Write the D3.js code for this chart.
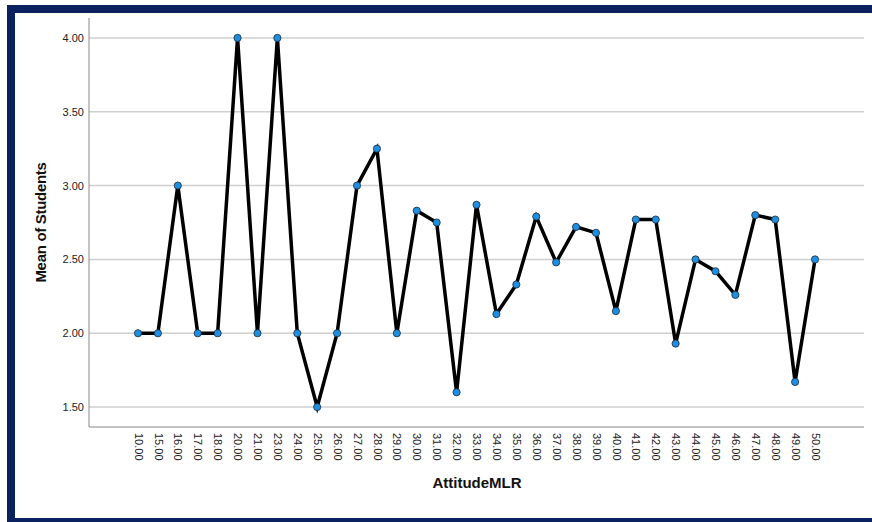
<!DOCTYPE html>
<html>
<head>
<meta charset="utf-8">
<script src="https://cdn.jsdelivr.net/npm/d3@7"></script>
<style>
  html, body { margin: 0; padding: 0; background: #fff; }
  svg { display: block; }
</style>
</head>
<body>
<svg id="chart" width="872" height="522"></svg>
<script>
const categories = ["10.00","15.00","16.00","17.00","18.00","20.00","21.00","23.00","24.00","25.00","26.00","27.00","28.00","29.00","30.00","31.00","32.00","33.00","34.00","35.00","36.00","37.00","38.00","39.00","40.00","41.00","42.00","43.00","44.00","45.00","46.00","47.00","48.00","49.00","50.00"];
const meanStudents = [2.00,2.00,3.00,2.00,2.00,4.00,2.00,4.00,2.00,1.50,2.00,3.00,3.25,2.00,2.83,2.75,1.60,2.87,2.13,2.33,2.79,2.48,2.72,2.68,2.15,2.77,2.77,1.93,2.50,2.42,2.26,2.80,2.77,1.67,2.50];
const yTicks = [1.50, 2.00, 2.50, 3.00, 3.50, 4.00];
const xTitle = "AttitudeMLR";
const yTitle = "Mean of Students";

const svg = d3.select("#chart");
const W = 872, H = 522;
const navy = "#0b2260";

// frame
svg.append("rect").attr("x", 7).attr("y", 5).attr("width", W - 7).attr("height", 8).attr("fill", navy);
svg.append("rect").attr("x", 7).attr("y", 5).attr("width", 8).attr("height", H - 5).attr("fill", navy);
svg.append("rect").attr("x", 7).attr("y", 518).attr("width", W - 7).attr("height", 4).attr("fill", navy);

const pL = 89, pR = 864, pT = 18, pB = 427;

const x = d3.scalePoint().domain(categories).range([pL, pR]).padding(2.46);
const y = d3.scaleLinear().domain([1.365, 4.135]).range([pB, pT]);

// gridlines
svg.append("g").selectAll("line").data(yTicks).join("line")
  .attr("x1", pL).attr("x2", pR)
  .attr("y1", d => y(d)).attr("y2", d => y(d))
  .attr("stroke", "#cfcfcf").attr("stroke-width", 1.5);

// y axis
const yAxis = svg.append("g").attr("transform", `translate(${pL},0)`)
  .call(d3.axisLeft(y).tickValues(yTicks).tickFormat(d3.format(".2f")).tickSize(0).tickPadding(5));
yAxis.select(".domain").remove();
yAxis.selectAll("text").attr("font-family", "Liberation Sans, Arial, sans-serif").attr("font-size", 11).attr("fill", "#222");
svg.append("line").attr("x1", pL).attr("x2", pL).attr("y1", pT).attr("y2", pB).attr("stroke", "#888").attr("stroke-width", 1);

// x axis
const xAxis = svg.append("g").attr("transform", `translate(0,${pB})`)
  .call(d3.axisBottom(x).tickSize(0).tickPadding(0));
xAxis.select(".domain").remove();
xAxis.selectAll("text")
  .attr("font-family", "Liberation Sans, Arial, sans-serif").attr("font-size", 11).attr("fill", "#222")
  .attr("transform", "translate(0,6) rotate(90)")
  .attr("text-anchor", "start").attr("dy", "0.35em").attr("x", 0).attr("y", 0);
svg.append("line").attr("x1", pL).attr("x2", pR).attr("y1", pB).attr("y2", pB).attr("stroke", "#888").attr("stroke-width", 1);

// line
const line = d3.line().x((d, i) => x(categories[i])).y(d => y(d));
svg.append("path").datum(meanStudents).attr("d", line)
  .attr("fill", "none").attr("stroke", "#000").attr("stroke-width", 3.5).attr("stroke-linejoin", "miter").attr("stroke-miterlimit", 4);

// points
svg.append("g").selectAll("circle").data(meanStudents).join("circle")
  .attr("cx", (d, i) => x(categories[i])).attr("cy", d => y(d)).attr("r", 3.6)
  .attr("fill", "#1e8fe0").attr("stroke", "#1a2a3a").attr("stroke-width", 0.8);

// titles
svg.append("text").attr("x", 477).attr("y", 488).attr("text-anchor", "middle")
  .attr("font-family", "Liberation Sans, Arial, sans-serif").attr("font-size", 15).attr("font-weight", "bold").attr("fill", "#111")
  .text(xTitle);
svg.append("text").attr("transform", `translate(46,${(pT + pB) / 2}) rotate(-90)`).attr("text-anchor", "middle")
  .attr("font-family", "Liberation Sans, Arial, sans-serif").attr("font-size", 15).attr("font-weight", "bold").attr("fill", "#111")
  .attr("letter-spacing", "-0.3")
  .text(yTitle);
</script>
</body>
</html>
